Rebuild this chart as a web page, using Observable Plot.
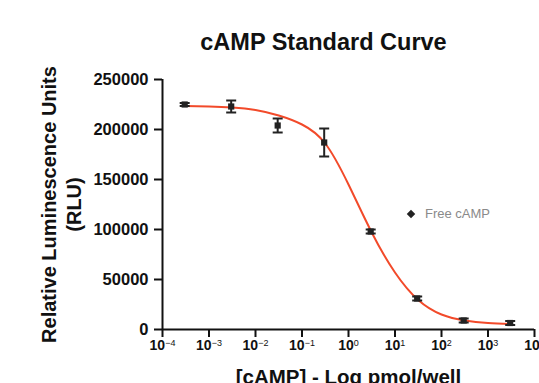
<!DOCTYPE html>
<html><head><meta charset="utf-8">
<script src="https://cdn.jsdelivr.net/npm/d3@7"></script>
<script src="https://cdn.jsdelivr.net/npm/@observablehq/plot@0.6"></script>
<style>
body{margin:0;background:#fff;width:539px;height:383px;overflow:hidden;font-family:"Liberation Sans",Arial,sans-serif;position:relative;}
#title{position:absolute;left:323.5px;top:42px;transform:translate(-50%,-50%);font-weight:bold;font-size:23.5px;white-space:nowrap;color:#111;}
#chart{position:absolute;left:0;top:60px;}
#legend{position:absolute;left:408px;top:206px;font-size:13px;color:#8a8a8a;white-space:nowrap;display:flex;align-items:center;}
#legend i{display:inline-block;width:6px;height:6px;background:#222;transform:rotate(45deg);margin-right:11px;}
</style></head><body>
<div id="title">cAMP Standard Curve</div>
<div id="chart"></div>
<div id="legend"><i></i>Free cAMP</div>
<script>
// measured standards (pmol/well) with mean RLU and error
const concentration = [0.0003, 0.003, 0.03, 0.3, 3, 30, 300, 3000];
const rlu = [225000, 223000, 204000, 187000, 98000, 31000, 9000, 6500];
const rluError = [1500, 6000, 7000, 14000, 2000, 2000, 2000, 2000];
// fitted curve
const fitConcentration = [0.0003, 0.001, 0.00316, 0.01, 0.0316, 0.1, 0.316, 1, 3.16, 10, 31.6, 100, 316, 1000, 3000];
const fitRlu = [223500, 223000, 222000, 219500, 214000, 205000, 186000, 145000, 97000, 57000, 29500, 15000, 9000, 6500, 5500];
const xTicks = [1e-4, 1e-3, 1e-2, 1e-1, 1, 10, 100, 1000, 10000];
const yTicks = [0, 50000, 100000, 150000, 200000, 250000];
const yLabel = "Relative Luminescence Units\n(RLU)";
const xLabel = "[cAMP] - Log pmol/well";

const points = concentration.map((c, i) => ({x: c, y: rlu[i], e: rluError[i]}));
const fit = fitConcentration.map((c, i) => ({x: c, y: fitRlu[i]}));

const cap = {draw(ctx, size) { const r = 5; ctx.moveTo(-r, 0); ctx.lineTo(r, 0); }};

const chart = Plot.plot({
  width: 539, height: 340,
  marginTop: 19, marginBottom: 71, marginLeft: 162, marginRight: 5,
  style: {fontFamily: "'Liberation Sans', Arial, sans-serif", background: "transparent", overflow: "visible", color: "#111"},
  x: {type: "log", domain: [1e-4, 1e4]},
  y: {domain: [0, 250000]},
  marks: [
    Plot.axisY({ticks: yTicks, tickSize: 8, tickPadding: 6, strokeWidth: 2, tickFormat: d => String(d), fontSize: 16.5, fontWeight: "bold", label: null}),
    Plot.axisX({ticks: xTicks, tickSize: 8, tickPadding: 3, strokeWidth: 2, tickFormat: d => String(Math.round(Math.log10(d))), fontSize: 14, fontWeight: "bold", label: null}),
    Plot.ruleX([1e-4], {stroke: "#111", strokeWidth: 2}),
    Plot.ruleY([0], {stroke: "#111", strokeWidth: 2}),
    Plot.line(fit, {x: "x", y: "y", stroke: "#f24a2a", strokeWidth: 2, curve: "natural"}),
    Plot.ruleX(points, {x: "x", y1: d => d.y - d.e, y2: d => d.y + d.e, stroke: "#222", strokeWidth: 2}),
    Plot.dot(points, {x: "x", y: d => d.y + d.e, symbol: cap, stroke: "#222", strokeWidth: 2}),
    Plot.dot(points, {x: "x", y: d => d.y - d.e, symbol: cap, stroke: "#222", strokeWidth: 2}),
    Plot.dot(points, {x: "x", y: "y", symbol: "square", r: 3.5, fill: "#222"}),
    Plot.text([yLabel], {frameAnchor: "left", textAnchor: "middle", rotate: -90, dx: -102.5, fontSize: 20, fontWeight: "bold", lineHeight: 1.25, lineAnchor: "middle", fill: "#111"}),
    Plot.text([xLabel], {frameAnchor: "bottom", dy: 48, fontSize: 20.5, fontWeight: "bold", lineAnchor: "middle", fill: "#111"})
  ]
});
document.getElementById("chart").appendChild(chart);

d3.select(chart).selectAll('g[aria-label="x-axis tick label"] text').each(function() {
  const e = this.textContent;
  const t = d3.select(this);
  t.text("");
  t.append("tspan").text("10");
  t.append("tspan").attr("dy", "-0.45em").attr("font-size", "9px").attr("font-weight", "normal").text(e.replace("-", "−"));
});
</script>
</body></html>
